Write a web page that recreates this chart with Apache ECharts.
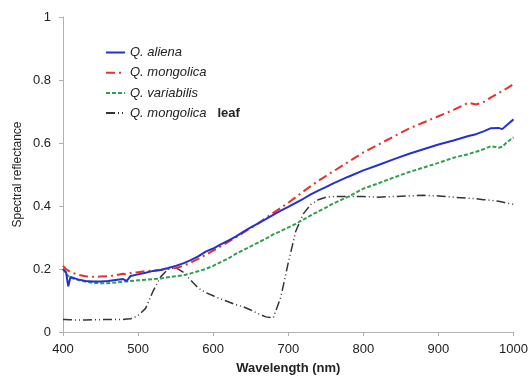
<!DOCTYPE html>
<html>
<head>
<meta charset="utf-8">
<script src="https://cdn.jsdelivr.net/npm/echarts@6/dist/echarts.min.js"></script>
<style>html,body{margin:0;padding:0;background:#fff}#c{width:531px;height:380px}</style>
</head>
<body>
<div id="c"></div>
<script>
var wavelengths = [400,404,407,410,420,430,440,450,460,470,480,485,490,500,510,520,530,540,550,560,570,580,590,600,610,620,630,640,650,660,670,680,690,700,710,720,730,740,750,760,780,800,820,840,860,880,900,920,940,950,960,970,980,985,990,1000];
var qAliena = [0.20,0.19,0.145,0.175,0.167,0.162,0.16,0.16,0.162,0.165,0.168,0.162,0.178,0.183,0.188,0.194,0.197,0.203,0.21,0.218,0.228,0.24,0.255,0.265,0.278,0.29,0.303,0.318,0.332,0.345,0.358,0.372,0.385,0.397,0.41,0.423,0.437,0.449,0.46,0.472,0.493,0.513,0.53,0.548,0.565,0.58,0.595,0.608,0.622,0.628,0.637,0.647,0.648,0.644,0.655,0.675];
var qMongolica = [0.21,0.2,0.195,0.19,0.182,0.177,0.175,0.176,0.177,0.18,0.185,0.183,0.187,0.19,0.193,0.195,0.197,0.2,0.203,0.21,0.22,0.232,0.245,0.258,0.272,0.286,0.3,0.315,0.33,0.345,0.362,0.378,0.394,0.41,0.428,0.446,0.463,0.48,0.495,0.51,0.54,0.57,0.595,0.62,0.645,0.665,0.685,0.705,0.728,0.722,0.73,0.745,0.758,0.765,0.772,0.787];
var qVariabilis = [0.2,0.185,0.178,0.172,0.165,0.16,0.156,0.155,0.155,0.157,0.16,0.16,0.162,0.164,0.166,0.168,0.17,0.174,0.177,0.18,0.186,0.193,0.2,0.21,0.222,0.233,0.248,0.26,0.272,0.284,0.296,0.31,0.32,0.332,0.343,0.357,0.37,0.383,0.395,0.408,0.43,0.455,0.472,0.49,0.507,0.522,0.537,0.553,0.565,0.572,0.58,0.59,0.585,0.588,0.6,0.618];
var qMongolicaLeaf = [0.04,0.04,0.039,0.039,0.038,0.038,0.039,0.039,0.04,0.04,0.04,0.041,0.042,0.052,0.075,0.13,0.175,0.2,0.205,0.19,0.165,0.14,0.125,0.115,0.105,0.096,0.087,0.08,0.07,0.058,0.048,0.045,0.11,0.22,0.32,0.375,0.405,0.42,0.428,0.43,0.43,0.43,0.428,0.43,0.432,0.434,0.432,0.428,0.425,0.423,0.42,0.418,0.415,0.413,0.41,0.405];
var seriesNames = ['Q. aliena','Q. mongolica','Q. variabilis','Q. mongolica leaf'];
var xTicks = [400,500,600,700,800,900,1000];
var yTicks = [0,0.2,0.4,0.6,0.8,1];

function pairs(v){ return wavelengths.map(function(w,i){return [w,v[i]];}); }

var chart = echarts.init(document.getElementById('c'));
var axisCol = '#b0b0b0';
chart.setOption({
  animation:false,
  backgroundColor:'#fff',
  textStyle:{fontFamily:'Liberation Sans, Arial, sans-serif'},
  grid:{left:63,right:15,top:17,bottom:46},
  legend:{
    orient:'vertical', left:105, top:46, padding:0, itemWidth:19, itemHeight:14, itemGap:7.2,
    data:seriesNames,
    itemStyle:{opacity:0},
    textStyle:{fontSize:13,color:'#222',fontStyle:'italic',
      rich:{i:{fontSize:13,fontStyle:'italic',color:'#222'},b:{fontSize:13,fontWeight:'bold',color:'#222',fontStyle:'normal'}}},
    formatter:function(n){
      if(n==='Q. mongolica leaf') return '{i|Q. mongolica}   {b|leaf}';
      return n;
    }
  },
  xAxis:{
    type:'value', min:400, max:1000, interval:100,
    name:'Wavelength (nm)', nameLocation:'middle', nameGap:30,
    nameTextStyle:{fontSize:13,fontWeight:'bold',color:'#222'},
    axisLine:{lineStyle:{color:axisCol}}, axisTick:{show:true,length:4,lineStyle:{color:axisCol}},
    axisLabel:{fontSize:13,color:'#222',margin:11,formatter:function(v){return String(v);}},
    splitLine:{show:false}
  },
  yAxis:{
    type:'value', min:0, max:1, interval:0.2,
    name:'Spectral reflectance', nameLocation:'middle', nameGap:39, nameMoveOverlap:false,
    nameTextStyle:{fontSize:12,color:'#222'},
    axisLine:{show:true,lineStyle:{color:axisCol}}, axisTick:{show:true,length:4,lineStyle:{color:axisCol}},
    axisLabel:{fontSize:13,color:'#222',margin:12,formatter:function(v){return String(Math.round(v*10)/10);}},
    splitLine:{show:false}
  },
  series:[
    {name:seriesNames[0],type:'line',data:pairs(qAliena),symbol:'none',z:4,
     lineStyle:{color:'#2530d0',width:2,type:'solid'},itemStyle:{color:'#2530d0'}},
    {name:seriesNames[1],type:'line',data:pairs(qMongolica),symbol:'none',z:3,
     lineStyle:{color:'#e83228',width:2,type:[9,4,2,4]},itemStyle:{color:'#e83228'}},
    {name:seriesNames[2],type:'line',data:pairs(qVariabilis),symbol:'none',z:3,
     lineStyle:{color:'#30a050',width:2,type:[4,2]},itemStyle:{color:'#30a050'}},
    {name:seriesNames[3],type:'line',data:pairs(qMongolicaLeaf),symbol:'none',z:2,
     lineStyle:{color:'#333',width:1.5,type:[9,3,1,3,1,3]},itemStyle:{color:'#333'}}
  ]
});
</script>
</body>
</html>
